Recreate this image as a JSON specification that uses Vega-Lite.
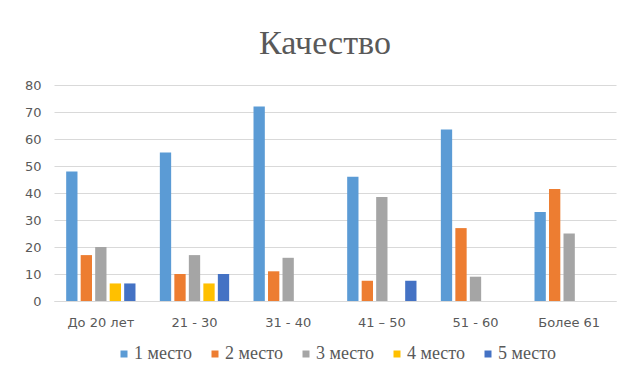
{
  "$schema": "https://vega.github.io/schema/vega-lite/v6.json",
  "width": 562,
  "height": 216,
  "padding": {"left": 24, "top": 27, "right": 11, "bottom": 5},
  "background": "white",
  "title": {
    "text": "Качество",
    "font": "Liberation Serif",
    "fontSize": 34,
    "fontWeight": "normal",
    "color": "#595959",
    "anchor": "middle",
    "dx": -10,
    "offset": 18
  },
  "data": {
    "values": [
      {"group": "До 20 лет", "place": "1 место", "value": 48},
      {"group": "До 20 лет", "place": "2 место", "value": 17},
      {"group": "До 20 лет", "place": "3 место", "value": 20},
      {"group": "До 20 лет", "place": "4 место", "value": 6.5},
      {"group": "До 20 лет", "place": "5 место", "value": 6.5},
      {"group": "21 - 30", "place": "1 место", "value": 55},
      {"group": "21 - 30", "place": "2 место", "value": 10},
      {"group": "21 - 30", "place": "3 место", "value": 17},
      {"group": "21 - 30", "place": "4 место", "value": 6.5},
      {"group": "21 - 30", "place": "5 место", "value": 10},
      {"group": "31 - 40", "place": "1 место", "value": 72},
      {"group": "31 - 40", "place": "2 место", "value": 11},
      {"group": "31 - 40", "place": "3 место", "value": 16},
      {"group": "41 – 50", "place": "1 место", "value": 46},
      {"group": "41 – 50", "place": "2 место", "value": 7.5},
      {"group": "41 – 50", "place": "3 место", "value": 38.5},
      {"group": "41 – 50", "place": "5 место", "value": 7.5},
      {"group": "51 - 60", "place": "1 место", "value": 63.5},
      {"group": "51 - 60", "place": "2 место", "value": 27},
      {"group": "51 - 60", "place": "3 место", "value": 9},
      {"group": "Более 61", "place": "1 место", "value": 33},
      {"group": "Более 61", "place": "2 место", "value": 41.5},
      {"group": "Более 61", "place": "3 место", "value": 25}
    ]
  },
  "mark": {"type": "bar"},
  "encoding": {
    "x": {
      "field": "group",
      "type": "nominal",
      "sort": ["До 20 лет", "21 - 30", "31 - 40", "41 – 50", "51 - 60", "Более 61"],
      "scale": {"paddingInner": 0.26, "paddingOuter": 0.13},
      "axis": {
        "title": null,
        "labelAngle": 0,
        "ticks": false,
        "domainColor": "#D9D9D9",
        "labelFont": "DejaVu Sans",
        "labelFontSize": 13,
        "labelColor": "#595959",
        "labelPadding": 15
      }
    },
    "xOffset": {
      "field": "place",
      "type": "nominal",
      "sort": ["1 место", "2 место", "3 место", "4 место", "5 место"],
      "scale": {"paddingInner": 0.22}
    },
    "y": {
      "field": "value",
      "type": "quantitative",
      "scale": {"domain": [0, 80], "nice": false},
      "axis": {
        "title": null,
        "values": [0, 10, 20, 30, 40, 50, 60, 70, 80],
        "domain": false,
        "ticks": false,
        "gridColor": "#D9D9D9",
        "labelFont": "DejaVu Sans",
        "labelFontSize": 13,
        "labelColor": "#595959",
        "labelPadding": 13
      }
    },
    "color": {
      "field": "place",
      "type": "nominal",
      "scale": {
        "domain": ["1 место", "2 место", "3 место", "4 место", "5 место"],
        "range": ["#5B9BD5", "#ED7D31", "#A5A5A5", "#FFC000", "#4472C4"]
      },
      "legend": {
        "title": null,
        "orient": "bottom",
        "direction": "horizontal",
        "symbolType": "square",
        "symbolSize": 49,
        "symbolStrokeWidth": 0,
        "labelFont": "Liberation Serif",
        "labelFontSize": 18,
        "labelColor": "#595959",
        "labelOffset": 1,
        "columnPadding": 14,
        "offset": 16
      }
    }
  },
  "config": {
    "view": {"stroke": null},
    "legend": {"layout": {"bottom": {"anchor": "middle"}}}
  }
}
